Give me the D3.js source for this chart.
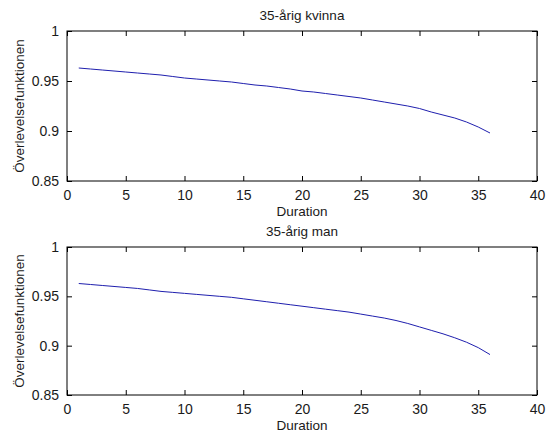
<!DOCTYPE html>
<html>
<head>
<meta charset="utf-8">
<script src="https://cdn.jsdelivr.net/npm/d3@7"></script>
<style>
  body { margin: 0; background: #fff; }
  svg { display: block; }
  text { font-family: Arial, "Liberation Sans", sans-serif; fill: #1a1a1a; }
</style>
</head>
<body>
<svg width="547" height="437"></svg>
<script>
// months 1..36
const duration = d3.range(1, 37)

const kvinna = [
  0.963, 0.962, 0.961, 0.960, 0.959, 0.958, 0.957, 0.956, 0.9545, 0.953,
  0.952, 0.951, 0.950, 0.949, 0.9475, 0.946, 0.945, 0.9435, 0.942, 0.940,
  0.939, 0.9375, 0.936, 0.9345, 0.933, 0.931, 0.929, 0.927, 0.925, 0.9225,
  0.919, 0.916, 0.913, 0.909, 0.904, 0.898
]

const man = [
  0.963, 0.962, 0.961, 0.960, 0.959, 0.958, 0.9565, 0.955, 0.954, 0.953,
  0.952, 0.951, 0.950, 0.949, 0.9475, 0.946, 0.9445, 0.943, 0.9415, 0.940,
  0.9385, 0.937, 0.9355, 0.934, 0.932, 0.930, 0.928, 0.9255, 0.9225, 0.919,
  0.9155, 0.912, 0.908, 0.9035, 0.898, 0.891
]

const titles = ['35-årig kvinna', '35-årig man']
const xTicks = [0, 5, 10, 15, 20, 25, 30, 35, 40]
const yTicks = [0.85, 0.9, 0.95, 1]
const xLabel = 'Duration'
const yLabel = 'Överlevelsefunktionen'

const panels = [
  { title: titles[0], values: kvinna, top: 31, bottom: 181 },
  { title: titles[1], values: man, top: 247, bottom: 395 }
]

const left = 67
const right = 537
const svg = d3.select('svg')

const x = d3.scaleLinear()
  .domain([0, 40])
  .range([left, right])

panels.forEach(panel => {
  const y = d3.scaleLinear()
    .domain([0.85, 1])
    .range([panel.bottom, panel.top])

  const g = svg.append('g')

  // bottom axis with labels, ticks inward
  g.append('g')
    .attr('transform', 'translate(0,' + panel.bottom + ')')
    .call(d3.axisBottom(x).tickValues(xTicks).tickSizeInner(-5).tickSizeOuter(0).tickPadding(9).tickFormat(d3.format('d')))
  // top mirror ticks
  g.append('g')
    .attr('transform', 'translate(0,' + panel.top + ')')
    .call(d3.axisTop(x).tickValues(xTicks).tickSizeInner(-5).tickSizeOuter(0).tickFormat(''))

  g.append('g')
    .attr('transform', 'translate(' + left + ',0)')
    .call(d3.axisLeft(y).tickValues(yTicks).tickSizeInner(-5).tickSizeOuter(0).tickPadding(8).tickFormat(d => String(+d.toFixed(2))))
  g.append('g')
    .attr('transform', 'translate(' + right + ',0)')
    .call(d3.axisRight(y).tickValues(yTicks).tickSizeInner(-5).tickSizeOuter(0).tickFormat(''))

  g.selectAll('.domain').remove()
  g.selectAll('.tick line').attr('stroke', '#000')
  g.selectAll('.tick text')
    .attr('font-size', 14)
    .attr('font-family', 'Arial, "Liberation Sans", sans-serif')
    .attr('fill', '#1a1a1a')

  g.append('rect')
    .attr('x', left)
    .attr('y', panel.top)
    .attr('width', right - left)
    .attr('height', panel.bottom - panel.top)
    .attr('fill', 'none')
    .attr('stroke', '#000')
    .attr('stroke-width', 1)

  const line = d3.line()
    .x((d, i) => x(duration[i]))
    .y(d => y(d))

  g.append('path')
    .datum(panel.values)
    .attr('d', line)
    .attr('fill', 'none')
    .attr('stroke', '#1f1fae')
    .attr('stroke-width', 1)

  g.append('text')
    .text(panel.title)
    .attr('x', (left + right) / 2)
    .attr('y', panel.top - 11)
    .attr('text-anchor', 'middle')
    .attr('font-size', 13.5)

  g.append('text')
    .text(xLabel)
    .attr('x', (left + right) / 2)
    .attr('y', panel.bottom + 35)
    .attr('text-anchor', 'middle')
    .attr('font-size', 13.5)

  g.append('text')
    .text(yLabel)
    .attr('x', -(panel.top + panel.bottom) / 2)
    .attr('y', 24)
    .attr('text-anchor', 'middle')
    .attr('transform', 'rotate(-90)')
    .attr('font-size', 13.5)
})
</script>
</body>
</html>
